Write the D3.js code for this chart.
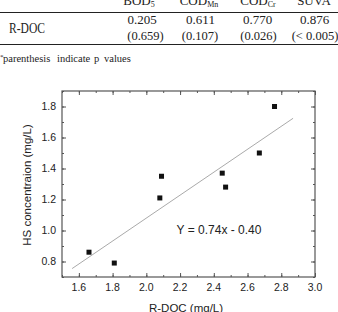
<!DOCTYPE html>
<html lang="en">
<head>
<meta charset="utf-8">
<title>R-DOC vs HS</title>
<script src="https://d3js.org/d3.v7.min.js"></script>
<style>
  body { margin: 0; background: #fff; }
  svg { display: block; }
  .serif { font-family: "Liberation Serif", "Times New Roman", serif; fill: #222; }
  .sans { font-family: "Liberation Sans", Arial, sans-serif; fill: #222; }
</style>
</head>
<body>
<svg id="chart" width="338" height="312"></svg>
<script>
// table data
var colNames = ["BOD", "COD", "COD", "SUVA"];
var colSubs = ["5", "Mn", "Cr", ""];
var rowName = "R-DOC";
var rValues = ["0.205", "0.611", "0.770", "0.876"];
var pValues = ["(0.659)", "(0.107)", "(0.026)", "(< 0.005)"];
var noteWords = ["parenthesis", "indicate", "p", "values"];

// scatter data
var docX = [1.66, 1.81, 2.08, 2.09, 2.45, 2.47, 2.67, 2.76];
var hsY = [0.86, 0.79, 1.21, 1.35, 1.37, 1.28, 1.50, 1.80];
var slope = 0.74, intercept = -0.40;
var fitRange = [1.56, 2.87];
var xTicks = [1.6, 1.8, 2.0, 2.2, 2.4, 2.6, 2.8, 3.0];
var yTicks = [0.8, 1.0, 1.2, 1.4, 1.6, 1.8];

var svg = d3.select("#chart");

// ---- table ----
var headX = [139, 199, 258, 314];
var valX = [142, 200.5, 257.5, 314.5];
var pX = [145.5, 200, 258.5, 315];

var head = svg.selectAll(".head").data(colNames).enter().append("text")
    .attr("class", "serif head")
    .attr("x", function(d, i) { return headX[i]; })
    .attr("y", 4.5)
    .attr("text-anchor", "middle")
    .attr("font-size", "13px");
head.append("tspan").text(function(d) { return d; });
head.append("tspan").attr("font-size", "8px").attr("dy", 2)
    .text(function(d, i) { return colSubs[i]; });

svg.append("line").attr("x1", 0).attr("x2", 338).attr("y1", 12.5).attr("y2", 12.5)
    .attr("stroke", "#222").attr("stroke-width", 1.2);
svg.append("line").attr("x1", 0).attr("x2", 338).attr("y1", 44.5).attr("y2", 44.5)
    .attr("stroke", "#222").attr("stroke-width", 1.2);

svg.append("text").attr("class", "serif").attr("x", 9).attr("y", 33.3)
    .attr("font-size", "14px")
    .attr("textLength", 36).attr("lengthAdjust", "spacingAndGlyphs")
    .text(rowName);

svg.selectAll(".rv").data(rValues).enter().append("text")
    .attr("class", "serif rv")
    .attr("x", function(d, i) { return valX[i]; })
    .attr("y", 24)
    .attr("text-anchor", "middle")
    .attr("font-size", "13px")
    .text(function(d) { return d; });

svg.selectAll(".pv").data(pValues).enter().append("text")
    .attr("class", "serif pv")
    .attr("x", function(d, i) { return pX[i]; })
    .attr("y", 39.5)
    .attr("text-anchor", "middle")
    .attr("font-size", "12.5px")
    .text(function(d) { return d; });

// footnote
var noteX = [3, 57, 94, 104];
var note = svg.append("text").attr("class", "serif").attr("y", 62).attr("font-size", "10.5px");
note.append("tspan").attr("x", 0).attr("dy", -3).attr("font-size", "7px").text("*");
note.selectAll(".w").data(noteWords).enter().append("tspan")
    .attr("class", "w")
    .attr("x", function(d, i) { return noteX[i]; })
    .attr("dy", function(d, i) { return i === 0 ? 3 : 0; })
    .text(function(d) { return d; });

// ---- scatter plot ----
var pL = 62, pR = 315, pT = 91, pB = 277;
var x = d3.scaleLinear().domain([1.5, 3.0]).range([pL, pR]);
var y = d3.scaleLinear().domain([0.7, 1.9]).range([pB, pT]);

var xMinor = d3.range(1.5, 3.0001, 0.1);
var yMinor = d3.range(0.7, 1.9001, 0.1);
var axisColor = "#555";

// ticks inward on all four sides
var g = svg.append("g");
g.append("g").attr("transform", "translate(0," + pB + ")")
  .call(d3.axisTop(x).tickValues(xMinor).tickSize(2).tickFormat(""));
g.append("g").attr("transform", "translate(0," + pB + ")")
  .call(d3.axisTop(x).tickValues(xTicks).tickSize(4).tickFormat(""));
g.append("g").attr("transform", "translate(0," + pT + ")")
  .call(d3.axisBottom(x).tickValues(xMinor).tickSize(2).tickFormat(""));
g.append("g").attr("transform", "translate(0," + pT + ")")
  .call(d3.axisBottom(x).tickValues(xTicks).tickSize(4).tickFormat(""));
g.append("g").attr("transform", "translate(" + pL + ",0)")
  .call(d3.axisRight(y).tickValues(yMinor).tickSize(2).tickFormat(""));
g.append("g").attr("transform", "translate(" + pL + ",0)")
  .call(d3.axisRight(y).tickValues(yTicks).tickSize(4).tickFormat(""));
g.append("g").attr("transform", "translate(" + pR + ",0)")
  .call(d3.axisLeft(y).tickValues(yMinor).tickSize(2).tickFormat(""));
g.append("g").attr("transform", "translate(" + pR + ",0)")
  .call(d3.axisLeft(y).tickValues(yTicks).tickSize(4).tickFormat(""));
g.selectAll(".domain").remove();
g.selectAll(".tick line").attr("stroke", axisColor);

svg.append("rect").attr("x", pL).attr("y", pT)
    .attr("width", pR - pL).attr("height", pB - pT)
    .attr("fill", "none").attr("stroke", axisColor).attr("stroke-width", 1.2);

// tick labels
svg.selectAll(".xl").data(xTicks).enter().append("text")
    .attr("class", "sans xl")
    .attr("x", function(d) { return x(d); })
    .attr("y", 290.5)
    .attr("text-anchor", "middle")
    .attr("font-size", "10.5px")
    .text(function(d) { return d3.format(".1f")(d); });
svg.selectAll(".yl").data(yTicks).enter().append("text")
    .attr("class", "sans yl")
    .attr("x", 56)
    .attr("y", function(d) { return y(d) + 3.7; })
    .attr("text-anchor", "end")
    .attr("font-size", "10.5px")
    .text(function(d) { return d3.format(".1f")(d); });

// axis titles
svg.append("text").attr("class", "sans")
    .attr("x", 186).attr("y", 311.5)
    .attr("text-anchor", "middle").attr("font-size", "11.5px")
    .text("R-DOC (mg/L)");
svg.append("text").attr("class", "sans")
    .attr("transform", "translate(31,185) rotate(-90)")
    .attr("text-anchor", "middle").attr("font-size", "11.5px")
    .text("HS concentraion (mg/L)");

// fit line
svg.append("line")
    .attr("x1", x(fitRange[0])).attr("y1", y(slope * fitRange[0] + intercept))
    .attr("x2", x(fitRange[1])).attr("y2", y(slope * fitRange[1] + intercept))
    .attr("stroke", "#aaa").attr("stroke-width", 1);

// points
var pts = docX.map(function(d, i) { return { x: d, y: hsY[i] }; });
svg.selectAll(".pt").data(pts).enter().append("rect")
    .attr("class", "pt")
    .attr("x", function(d) { return x(d.x) - 2.5; })
    .attr("y", function(d) { return y(d.y) - 2.5; })
    .attr("width", 5).attr("height", 5)
    .attr("fill", "#111");

// equation
svg.append("text").attr("class", "sans")
    .attr("x", 219).attr("y", 234)
    .attr("text-anchor", "middle").attr("font-size", "12px")
    .text("Y = 0.74x - 0.40");
</script>
</body>
</html>
